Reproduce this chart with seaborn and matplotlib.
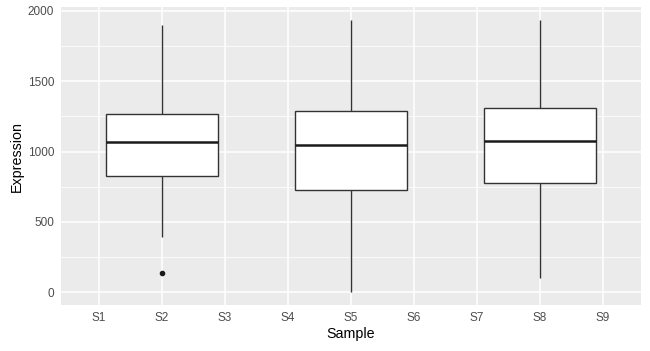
import matplotlib
matplotlib.use("Agg")
import matplotlib.pyplot as plt
import numpy as np
import pandas as pd
import seaborn as sns

# valeurs (9 points par echantillon -> quartiles exacts)
samples = ["S1", "S2", "S3", "S4", "S5", "S6", "S7", "S8", "S9"]
s2_values = [137, 396, 823, 950, 1068, 1150, 1269, 1500, 1899]
s5_values = [5, 400, 727, 900, 1047, 1150, 1288, 1600, 1934]
s8_values = [99, 400, 776, 900, 1073, 1200, 1309, 1600, 1934]

df = pd.DataFrame({
    "Sample": ["S2"] * len(s2_values) + ["S5"] * len(s5_values) + ["S8"] * len(s8_values),
    "Expression": s2_values + s5_values + s8_values,
})

sns.set_theme(style="darkgrid", rc={
    "axes.facecolor": "#EBEBEB",
    "grid.color": "white",
    "axes.edgecolor": "#EBEBEB",
})
plt.rcParams["font.family"] = ["Liberation Sans", "DejaVu Sans"]

fig = plt.figure(figsize=(6.5, 3.51), dpi=100)
ax = fig.add_axes([0.094, 0.131, 0.892, 0.849])

sns.boxplot(data=df, x="Sample", y="Expression", order=samples, width=1.78,
            color="white", linecolor="#333333", linewidth=1.0, whis=1.5,
            fliersize=3.0, showcaps=False,
            flierprops=dict(marker="o", markerfacecolor="#1a1a1a", markeredgecolor="#1a1a1a"),
            medianprops=dict(color="#1a1a1a", linewidth=1.8),
            ax=ax)

for patch in ax.patches:
    patch.set_facecolor("white")
    patch.set_zorder(3)
for line in ax.lines:
    line.set_zorder(4)

ax.set_xlim(-0.6, 8.6)
ax.set_ylim(-90, 2026)
ax.set_yticks([0, 500, 1000, 1500, 2000])
ax.set_yticks([250, 750, 1250, 1750], minor=True)
ax.grid(True, which="major", color="white", linewidth=1.1)
ax.grid(True, which="minor", axis="y", color="white", linewidth=0.55)
ax.set_axisbelow(True)
for s in ax.spines.values():
    s.set_visible(False)

ax.tick_params(axis="both", which="major", length=3, width=0.8, color="#333333",
               labelcolor="#4D4D4D", labelsize=8.5, pad=2)
ax.tick_params(axis="both", which="minor", length=0)
ax.set_xlabel("Sample", fontsize=10.3, color="black", labelpad=2)
ax.set_ylabel("Expression", fontsize=10.3, color="black", labelpad=3)

fig.savefig("out.png", dpi=100)
